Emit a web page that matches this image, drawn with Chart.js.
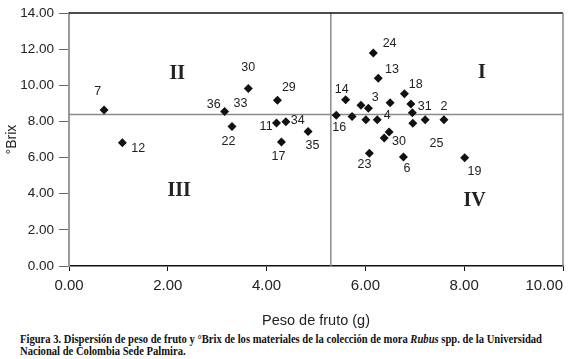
<!DOCTYPE html>
<html>
<head>
<meta charset="utf-8">
<script src="https://cdn.jsdelivr.net/npm/chart.js@4"></script>
<style>
     body { margin: 0; background: #fff; }
     #wrap { position: relative; width: 569px; height: 359px; overflow: hidden; }
     #chartBox { position: absolute; left: 0; top: 0; width: 569px; height: 332px; }
     #caption { position: absolute; left: 20px; top: 333px; font-family: "Liberation Serif", "Times New Roman", serif; font-weight: bold; font-size: 12px; line-height: 12px; color: #111; white-space: nowrap; transform-origin: left top; }
</style>
</head>
<body>
<div id="wrap">
     <div id="chartBox"><canvas id="myScatterChart" width="569" height="332"></canvas></div>
     <div id="caption">
          <div>Figura 3. Dispersión de peso de fruto y °Brix de los materiales de la colección de mora <i>Rubus</i> spp. de la Universidad</div>
          <div>Nacional de Colombia Sede Palmira.</div>
     </div>
</div>
<script>
// Values
var pesoFruto = [0.71, 1.08, 3.15, 3.30, 3.63, 4.22, 4.20, 4.39, 4.30, 4.84,
     6.16, 6.26, 5.60, 5.91, 6.06, 6.50, 6.79, 6.92, 6.95, 5.41, 5.73,
     6.01, 6.24, 6.96, 7.21, 7.59, 6.48, 6.38, 6.08, 6.77, 8.01];
var brix = [8.64, 6.82, 8.55, 7.72, 9.82, 9.17, 7.92, 7.98, 6.87, 7.44,
     11.79, 10.39, 9.21, 8.90, 8.73, 9.04, 9.54, 8.97, 8.49, 8.34, 8.27,
     8.09, 8.10, 7.90, 8.09, 8.10, 7.42, 7.09, 6.24, 6.04, 5.99];

// Material numbers and where they sit on the plot (data units)
var labelText = ['7', '12', '36', '33', '22', '30', '29', '11', '34', '17', '35',
     '24', '13', '14', '3', '18', '31', '2', '16', '4', '30', '25', '23', '6', '19'];
var labelPeso = [0.58, 1.40, 2.93, 3.47, 3.23, 3.63, 4.45, 3.99, 4.63, 4.24, 4.93,
     6.49, 6.54, 5.52, 6.20, 7.02, 7.20, 7.59, 5.47, 6.44, 6.68, 7.44, 5.98, 6.84, 8.21];
var labelBrix = [9.65, 6.49, 8.93, 8.97, 6.87, 10.96, 9.86, 7.73, 8.03, 6.06, 6.67,
     12.29, 10.87, 9.75, 9.34, 10.04, 8.82, 8.82, 7.65, 8.31, 6.87, 6.76, 5.60, 5.41, 5.23];

// Quadrant names
var quadText = ['I', 'II', 'III', 'IV'];
var quadPeso = [8.36, 2.19, 2.23, 8.21];
var quadBrix = [10.72, 10.63, 4.14, 3.63];

// Means that split the quadrants
var mediaPeso = 5.30;
var mediaBrix = 8.38;

// Axis ranges
var xMin = 0, xMax = 10, xStep = 2;
var yMin = 0, yMax = 14, yStep = 2;

// Helper to draw the number labels, quadrant names and the frame
var annotationsPlugin = {
     id: 'annotations',
     beforeDraw: function (chart) {
          // first x label centred on its tick, last one kept inside
          var items = chart.scales.x.getLabelItems(chart.chartArea);
          if (items.length) {
               items[0].options.textAlign = 'center';
          }
     },
     afterDatasetsDraw: function (chart) {
          var ctx = chart.ctx;
          var xs = chart.scales.x, ys = chart.scales.y;
          ctx.save();
          ctx.fillStyle = '#222';
          ctx.textAlign = 'center';
          ctx.textBaseline = 'middle';
          ctx.font = '12.5px "Liberation Sans", Arial, sans-serif';
          for (var i = 0; i < labelText.length; i++) {
               ctx.fillText(labelText[i], xs.getPixelForValue(labelPeso[i]), ys.getPixelForValue(labelBrix[i]));
          }
          ctx.font = 'bold 20px "Liberation Serif", "Times New Roman", serif';
          for (var j = 0; j < quadText.length; j++) {
               ctx.fillText(quadText[j], xs.getPixelForValue(quadPeso[j]), ys.getPixelForValue(quadBrix[j]));
          }
          ctx.restore();
     },
     afterDraw: function (chart) {
          var ctx = chart.ctx;
          var a = chart.chartArea;
          ctx.save();
          ctx.lineWidth = 1.5;
          ctx.strokeStyle = '#111';
          ctx.beginPath();
          ctx.moveTo(a.left, a.top);
          ctx.lineTo(a.right, a.top);
          ctx.stroke();
          ctx.strokeStyle = '#888';
          ctx.beginPath();
          ctx.moveTo(a.right, a.top);
          ctx.lineTo(a.right, a.bottom);
          ctx.stroke();
          ctx.restore();
     }
};

// Function to create the scatter chart
function createScatterChart() {

     var points = pesoFruto.map(function (p, i) { return { x: p, y: brix[i] }; });

     var ctxS = document.getElementById('myScatterChart').getContext('2d');
     window.myScatterChart = new Chart(ctxS, {
          type: 'scatter',
          data: {
               datasets: [{
                    label: 'Materiales',
                    data: points,
                    pointStyle: 'rectRot',
                    pointRadius: 4.5,
                    pointHoverRadius: 4.5,
                    backgroundColor: '#111',
                    borderColor: '#111',
                    borderWidth: 0,
                    order: 1
               }, {
                    type: 'line',
                    label: 'Media °Brix',
                    data: [{ x: xMin, y: mediaBrix }, { x: xMax, y: mediaBrix }],
                    borderColor: '#8a8a8a',
                    borderWidth: 1.5,
                    pointRadius: 0,
                    fill: false,
                    order: 2
               }, {
                    type: 'line',
                    label: 'Media peso',
                    data: [{ x: mediaPeso, y: yMin }, { x: mediaPeso, y: yMax }],
                    borderColor: '#8a8a8a',
                    borderWidth: 1.5,
                    pointRadius: 0,
                    fill: false,
                    order: 2
               }]
          },
          options: {
               responsive: false,
               animation: false,
               layout: {
                    padding: { top: 12, right: 5, bottom: 0, left: 0 }
               },
               scales: {
                    x: {
                         type: 'linear',
                         min: xMin,
                         max: xMax,
                         afterFit: function (scale) { scale.height = 66; },
                         border: { color: '#111', width: 1.5 },
                         grid: {
                              drawOnChartArea: false,
                              tickLength: 5,
                              color: '#111'
                         },
                         ticks: {
                              stepSize: xStep,
                              align: 'inner',
                              padding: 6,
                              color: '#222',
                              font: { family: '"Liberation Sans", Arial, sans-serif', size: 15 },
                              callback: function (v) { return v.toFixed(2); }
                         },
                         title: {
                              display: true,
                              text: 'Peso de fruto (g)',
                              color: '#222',
                              padding: { top: 0, bottom: 2 },
                              font: { family: '"Liberation Sans", Arial, sans-serif', size: 14.5 }
                         }
                    },
                    y: {
                         type: 'linear',
                         min: yMin,
                         max: yMax,
                         afterFit: function (scale) { scale.width = 69; },
                         border: { color: '#999', width: 2 },
                         grid: {
                              drawOnChartArea: false,
                              tickLength: 10,
                              color: '#666'
                         },
                         ticks: {
                              stepSize: yStep,
                              padding: 5,
                              color: '#222',
                              font: { family: '"Liberation Sans", Arial, sans-serif', size: 13.5 },
                              callback: function (v) { return v.toFixed(2); }
                         },
                         title: {
                              display: true,
                              text: '°Brix',
                              color: '#222',
                              padding: { top: 4, bottom: 0 },
                              font: { family: '"Liberation Sans", Arial, sans-serif', size: 14 }
                         }
                    }
               },
               plugins: {
                    legend: { display: false },
                    tooltip: { enabled: false }
               }
          },
          plugins: [annotationsPlugin]
     });
}

// Squeeze the caption to the width it has in the figure
function fitCaption() {
     var cap = document.getElementById('caption');
     var inner = cap.firstElementChild;
     inner.style.display = 'inline-block';
     var w = inner.getBoundingClientRect().width;
     inner.style.display = '';
     cap.style.transform = 'scaleX(' + (522 / w) + ')';
}

createScatterChart();
fitCaption();
</script>
</body>
</html>
